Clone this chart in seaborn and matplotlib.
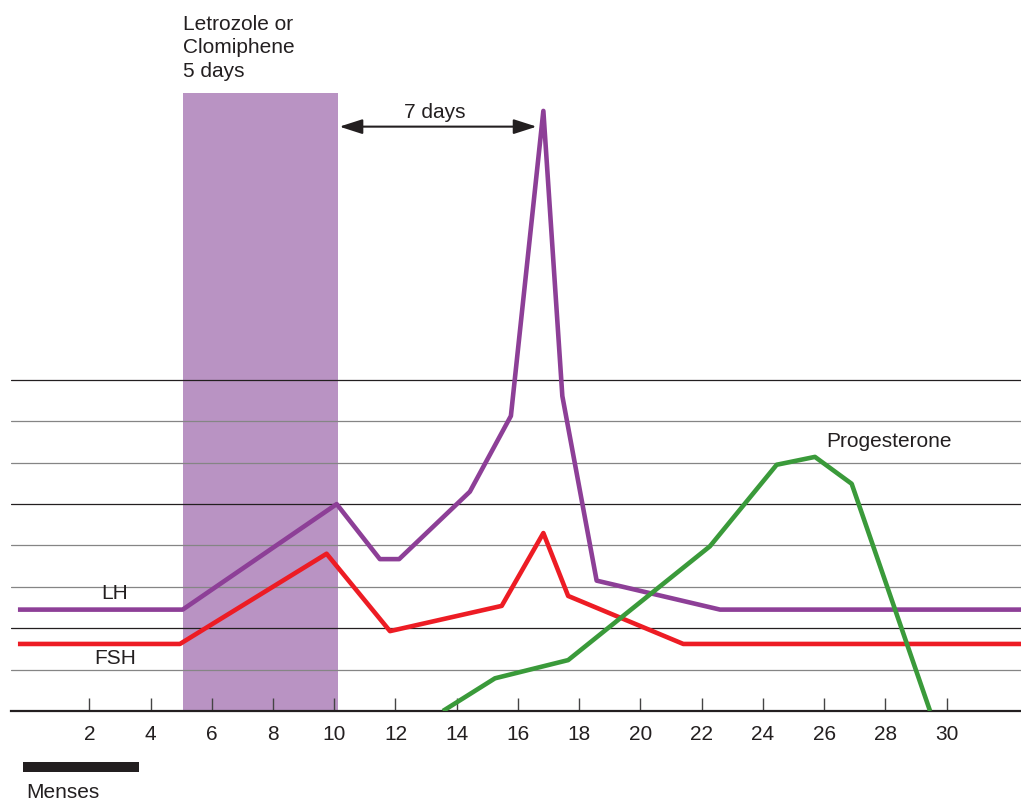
import matplotlib
matplotlib.use("Agg")
import matplotlib.pyplot as plt
import pandas as pd
import seaborn as sns

# hormone curves (x = cycle day, y = grid units above the axis)
lh_day = [-0.33, 5.05, 10.08, 11.49, 12.12, 14.43, 15.77, 16.83, 17.45, 18.57, 22.60, 32.6]
lh_level = [2.45, 2.45, 5.00, 3.67, 3.67, 5.30, 7.13, 14.50, 7.61, 3.15, 2.45, 2.45]

fsh_day = [-0.33, 4.96, 9.75, 11.82, 15.47, 16.83, 17.64, 21.40, 32.6]
fsh_level = [1.62, 1.62, 3.80, 1.93, 2.54, 4.30, 2.78, 1.62, 1.62]

prog_day = [13.55, 15.25, 17.64, 22.27, 24.45, 25.70, 26.90, 29.46]
prog_level = [0.0, 0.79, 1.23, 3.98, 5.95, 6.14, 5.49, 0.0]

tick_days = list(range(2, 31, 2))
grid_levels = [1, 2, 3, 4, 5, 6, 7, 8]

drug_start, drug_end = 5.06, 10.12
menses_start, menses_end = -0.15, 3.63

df = pd.DataFrame({
    "day": lh_day + fsh_day + prog_day,
    "level": lh_level + fsh_level + prog_level,
    "hormone": ["LH"] * len(lh_day) + ["FSH"] * len(fsh_day) + ["Progesterone"] * len(prog_day),
})

sns.set_theme(style="white")
plt.rcParams["font.family"] = ["Liberation Sans", "DejaVu Sans"]
ink = "#231f20"
fs = 15

fig = plt.figure(figsize=(10.21, 8.02), dpi=100)
ax = fig.add_axes([11 / 1021, 91 / 802, 1010 / 1021, 711 / 802])

# drug window
ax.axvspan(drug_start, drug_end, ymax=14.94 / 17.18, color="#b993c3", lw=0, zorder=0)

# horizontal rules
for lev in grid_levels:
    c = ink if lev % 3 == 2 else "#858585"
    ax.axhline(lev, color=c, lw=0.9, zorder=1)

colors = {"LH": "#8d3f97", "FSH": "#ed1c24", "Progesterone": "#3a9a3a"}
sns.lineplot(data=df, x="day", y="level", hue="hormone", palette=colors,
             estimator=None, sort=False, legend=False, lw=3.3, ax=ax,
             solid_capstyle="butt", zorder=3)

ax.set_xlim(-0.557, 32.43)
ax.set_ylim(0, 17.18)
ax.set_xticks(tick_days)
ax.set_xticklabels([str(d) for d in tick_days])
ax.set_yticks([])
ax.set_xlabel("")
ax.set_ylabel("")
for side in ["left", "right", "top"]:
    ax.spines[side].set_visible(False)
ax.spines["bottom"].set_color(ink)
ax.spines["bottom"].set_linewidth(1.6)
ax.tick_params(axis="x", direction="in", length=9.4, width=1.0, color="#444444",
               labelsize=fs, pad=10, labelcolor=ink, bottom=True)

# labels
ax.text(drug_start, 15.33, "Letrozole or\nClomiphene\n5 days", fontsize=fs, color=ink,
        ha="left", va="baseline", linespacing=1.28)
ax.annotate("", xy=(16.61, 14.12), xytext=(10.17, 14.12),
            arrowprops=dict(arrowstyle="<|-|>,head_length=1.4,head_width=0.45",
                            mutation_scale=10, color=ink, lw=1.5, shrinkA=0, shrinkB=0))
ax.text(13.28, 14.33, "7 days", fontsize=fs, color=ink, ha="center", va="baseline")
ax.text(2.84, 2.70, "LH", fontsize=fs, color=ink, ha="center", va="baseline")
ax.text(2.85, 1.13, "FSH", fontsize=fs, color=ink, ha="center", va="baseline")
ax.text(26.06, 6.37, "Progesterone", fontsize=fs, color=ink, ha="left", va="baseline")

# menses bar below the axis
ax.plot([menses_start, menses_end], [-1.35, -1.35], color=ink, lw=7.2,
        solid_capstyle="butt", clip_on=False)
ax.text(-0.07, -2.10, "Menses", fontsize=fs, color=ink, ha="left", va="baseline", clip_on=False)

fig.savefig("out.png", dpi=100)
